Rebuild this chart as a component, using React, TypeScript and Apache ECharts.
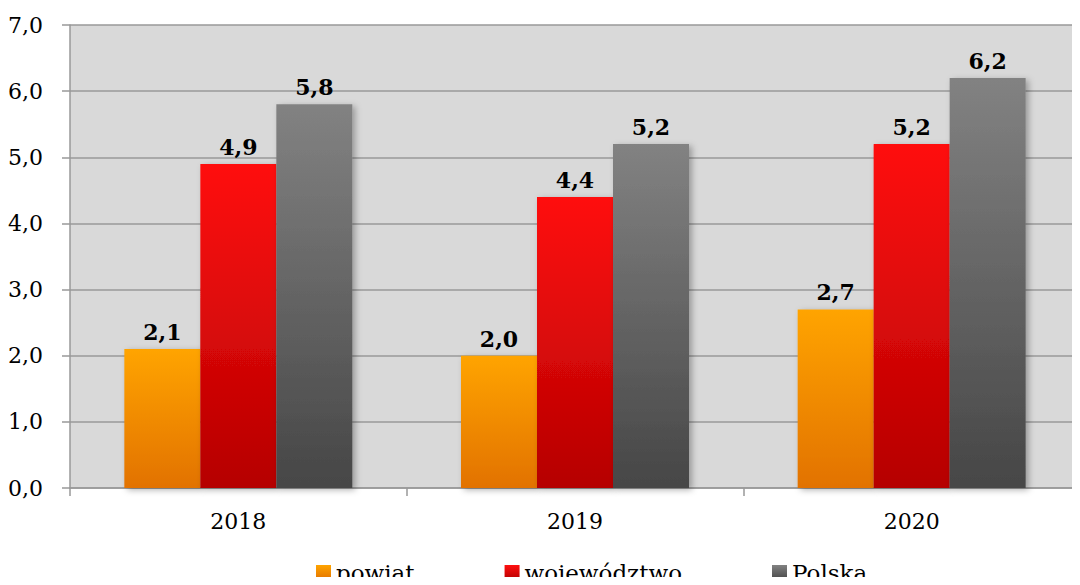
import React, { useEffect, useRef } from "react";
import * as echarts from "echarts";

const categories = ["2018", "2019", "2020"];
const seriesNames = ["powiat", "województwo", "Polska"];
const powiat = [2.1, 2.0, 2.7];
const wojewodztwo = [4.9, 4.4, 5.2];
const polska = [5.8, 5.2, 6.2];
const yTicks = [0, 1, 2, 3, 4, 5, 6, 7];

const FONT = "'DejaVu Serif', serif";

const grad = (top: string, bottom: string) =>
  new echarts.graphic.LinearGradient(0, 0, 0, 1, [
    { offset: 0, color: top },
    { offset: 1, color: bottom },
  ]);

export default function App() {
  const ref = useRef<HTMLDivElement>(null);
  useEffect(() => {
    if (!ref.current) return;
    const chart = echarts.init(ref.current, undefined, { renderer: "svg" });
    const fmt = (v: number) => v.toFixed(1).replace(".", ",");
    const colors = [
      ["#ffa400", "#e27200"],
      ["#ff1010", "#b50000"],
      ["#828282", "#464646"],
    ];
    const data = [powiat, wojewodztwo, polska];
    chart.setOption({
      animation: false,
      grid: {
        left: 70,
        right: 0,
        top: 25,
        bottom: 97,
        show: true,
        backgroundColor: "#d9d9d9",
        borderWidth: 0,
      },
      legend: {
        left: 316,
        top: 561,
        padding: 0,
        itemWidth: 15,
        itemHeight: 15,
        itemGap: 90,
        icon: "rect",
        textStyle: { fontFamily: FONT, fontSize: 23, lineHeight: 22, color: "#000" },
        data: seriesNames,
      },
      xAxis: {
        type: "category",
        data: categories,
        axisLine: { lineStyle: { color: "#999", width: 1.5 } },
        axisTick: { show: true, length: 8, lineStyle: { color: "#999", width: 1.5 } },
        axisLabel: { fontFamily: FONT, fontSize: 22, color: "#000", margin: 22 },
      },
      yAxis: {
        type: "value",
        min: yTicks[0],
        max: yTicks[yTicks.length - 1],
        interval: 1,
        axisLine: { show: true, lineStyle: { color: "#999", width: 1.5 } },
        axisTick: { show: true, length: 8, lineStyle: { color: "#999", width: 1.5 } },
        splitLine: { lineStyle: { color: "#999", width: 1.5 } },
        axisLabel: {
          fontFamily: FONT,
          fontSize: 22,
          color: "#000",
          margin: 27,
          formatter: (v: number) => fmt(v),
        },
      },
      series: seriesNames.map((name, i) => ({
        name,
        type: "bar",
        data: data[i],
        barWidth: 76,
        barGap: "0%",
        itemStyle: {
          color: grad(colors[i][0], colors[i][1]),
          shadowBlur: 6,
          shadowOffsetX: 3,
          shadowOffsetY: 2,
          shadowColor: "rgba(0,0,0,0.3)",
        },
        label: {
          show: true,
          position: "top",
          distance: 6,
          fontFamily: FONT,
          fontSize: 22,
          fontWeight: "bold",
          color: "#000",
          formatter: (p: any) => fmt(p.value),
        },
      })),
    });
    return () => chart.dispose();
  }, []);
  return <div ref={ref} style={{ width: 1080, height: 585, margin: -8 }} />;
}
